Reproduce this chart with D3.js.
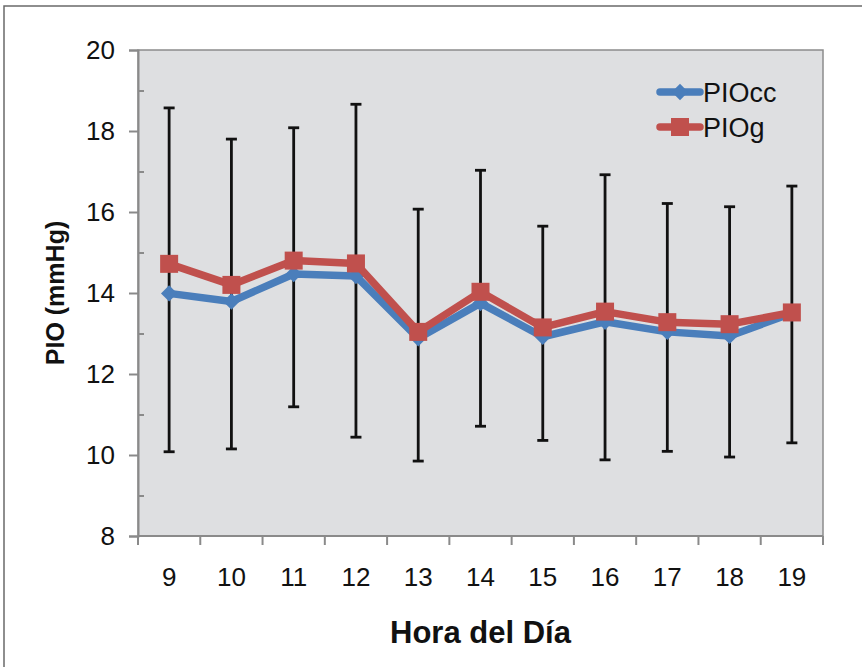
<!DOCTYPE html>
<html>
<head>
<meta charset="utf-8">
<script src="https://cdn.jsdelivr.net/npm/d3@7"></script>
<style>
  html, body { margin: 0; padding: 0; background: #fff; }
  svg { display: block; font-family: "Liberation Sans", Arial, sans-serif; }
</style>
</head>
<body>
<svg id="chart" width="862" height="667"></svg>
<script>
// Hours of the day (categories)
const hours = [9, 10, 11, 12, 13, 14, 15, 16, 17, 18, 19];
// Mean IOP per hour, two measurement series
const pioCC = [13.99, 13.79, 14.47, 14.42, 12.88, 13.75, 12.92, 13.29, 13.04, 12.94, 13.50];
const pioG  = [14.72, 14.20, 14.80, 14.73, 13.04, 14.03, 13.15, 13.54, 13.28, 13.23, 13.52];
// Error bar extents per hour
const errHigh = [18.57, 17.80, 18.08, 18.66, 16.07, 17.03, 15.65, 16.92, 16.21, 16.13, 16.64];
const errLow  = [10.08, 10.15, 11.19, 10.44, 9.85, 10.71, 10.36, 9.88, 10.09, 9.95, 10.30];
// Axis ticks
const yMajor = [8, 10, 12, 14, 16, 18, 20];
const yMinor = [9, 11, 13, 15, 17, 19];
const seriesNames = ["PIOcc", "PIOg"];

const svg = d3.select("#chart");
const plot = { left: 138, right: 823, top: 50, bottom: 536 };

const x = d3.scaleBand().domain(hours).range([plot.left, plot.right]).padding(0);
const y = d3.scaleLinear().domain([8, 20]).range([plot.bottom, plot.top]);
const cx = h => x(h) + x.bandwidth() / 2;

// Outer frame
svg.append("path")
  .attr("d", "M4,667 L4,6 L862,6")
  .attr("fill", "none").attr("stroke", "#6a6a6a").attr("stroke-width", 1.5);

// Plot background
svg.append("rect")
  .attr("x", plot.left).attr("y", plot.top)
  .attr("width", plot.right - plot.left).attr("height", plot.bottom - plot.top)
  .attr("fill", "#dedfe1").attr("stroke", "#8c8c8c").attr("stroke-width", 1.5);

const axisColor = "#8a8a8a";

// Y axis
const yAxis = svg.append("g").attr("transform", `translate(${plot.left},0)`)
  .call(d3.axisLeft(y).tickValues(yMajor).tickSize(9).tickPadding(14).tickFormat(d3.format("d")));
yAxis.select(".domain").attr("stroke", axisColor).attr("stroke-width", 2);
yAxis.selectAll(".tick line").attr("stroke", axisColor).attr("stroke-width", 2);
yAxis.selectAll(".tick text").attr("fill", "#111").style("font-size", "26px")
  .style("font-family", "'Liberation Sans', Arial, sans-serif");

// Y minor ticks (inside)
const yMin = svg.append("g").attr("transform", `translate(${plot.left},0)`)
  .call(d3.axisRight(y).tickValues(yMinor).tickSize(6).tickFormat(""));
yMin.select(".domain").remove();
yMin.selectAll(".tick line").attr("stroke", axisColor).attr("stroke-width", 2);

// X axis: ticks at category boundaries
const bounds = hours.map(h => x(h)).concat([plot.right]);
const xAxisG = svg.append("g");
xAxisG.append("line")
  .attr("x1", plot.left).attr("x2", plot.right)
  .attr("y1", plot.bottom).attr("y2", plot.bottom)
  .attr("stroke", axisColor).attr("stroke-width", 2);
xAxisG.selectAll("line.xt").data(bounds).join("line").attr("class", "xt")
  .attr("x1", d => d).attr("x2", d => d)
  .attr("y1", plot.bottom).attr("y2", plot.bottom + 9)
  .attr("stroke", axisColor).attr("stroke-width", 2);
xAxisG.selectAll("text").data(hours).join("text")
  .attr("x", d => cx(d)).attr("y", 586)
  .attr("text-anchor", "middle").attr("fill", "#111")
  .style("font-size", "26px")
  .text(d => d);

// Error bars
const eb = svg.append("g");
hours.forEach((h, i) => {
  const xx = cx(h);
  eb.append("line").attr("x1", xx).attr("x2", xx)
    .attr("y1", y(errLow[i])).attr("y2", y(errHigh[i]))
    .attr("stroke", "#111").attr("stroke-width", 2.8);
  [errLow[i], errHigh[i]].forEach(v => {
    eb.append("line").attr("x1", xx - 5.5).attr("x2", xx + 5.5)
      .attr("y1", y(v)).attr("y2", y(v))
      .attr("stroke", "#111").attr("stroke-width", 2.8);
  });
});

const blue = "#4a7ebb", red = "#c0504d";
const line = d3.line().x((d, i) => cx(hours[i])).y(d => y(d));

// PIOcc series
svg.append("path").datum(pioCC).attr("d", line)
  .attr("fill", "none").attr("stroke", blue).attr("stroke-width", 7.5).attr("stroke-linejoin", "round");
svg.append("g").selectAll("path").data(pioCC).join("path")
  .attr("d", d3.symbol(d3.symbolDiamond2, 170))
  .attr("transform", (d, i) => `translate(${cx(hours[i])},${y(d)})`)
  .attr("fill", blue);

// PIOg series
svg.append("path").datum(pioG).attr("d", line)
  .attr("fill", "none").attr("stroke", red).attr("stroke-width", 7.5).attr("stroke-linejoin", "round");
svg.append("g").selectAll("rect").data(pioG).join("rect")
  .attr("x", (d, i) => cx(hours[i]) - 9).attr("y", d => y(d) - 9)
  .attr("width", 18).attr("height", 18)
  .attr("fill", red);

// Legend
const legend = svg.append("g");
const legY = [92, 127];
const legColors = [blue, red];
seriesNames.forEach((name, i) => {
  legend.append("line").attr("x1", 660).attr("x2", 700)
    .attr("y1", legY[i]).attr("y2", legY[i])
    .attr("stroke", legColors[i]).attr("stroke-width", 7.5).attr("stroke-linecap", "round");
  if (i === 0) {
    legend.append("path").attr("d", d3.symbol(d3.symbolDiamond2, 170))
      .attr("transform", `translate(680,${legY[i]})`).attr("fill", blue);
  } else {
    legend.append("rect").attr("x", 671).attr("y", legY[i] - 9)
      .attr("width", 18).attr("height", 18).attr("fill", red);
  }
  legend.append("text").attr("x", 703).attr("y", legY[i]).attr("dy", "0.36em")
    .attr("fill", "#111").style("font-size", "27px").text(name);
});

// Axis titles
svg.append("text")
  .attr("transform", `translate(64,${(plot.top + plot.bottom) / 2}) rotate(-90)`)
  .attr("text-anchor", "middle")
  .style("font-size", "25px").style("font-weight", "bold").attr("fill", "#111")
  .text("PIO  (mmHg)");
svg.append("text")
  .attr("x", (plot.left + plot.right) / 2).attr("y", 643)
  .attr("text-anchor", "middle")
  .style("font-size", "31px").style("font-weight", "bold").attr("fill", "#111")
  .text("Hora del Día");
</script>
</body>
</html>
